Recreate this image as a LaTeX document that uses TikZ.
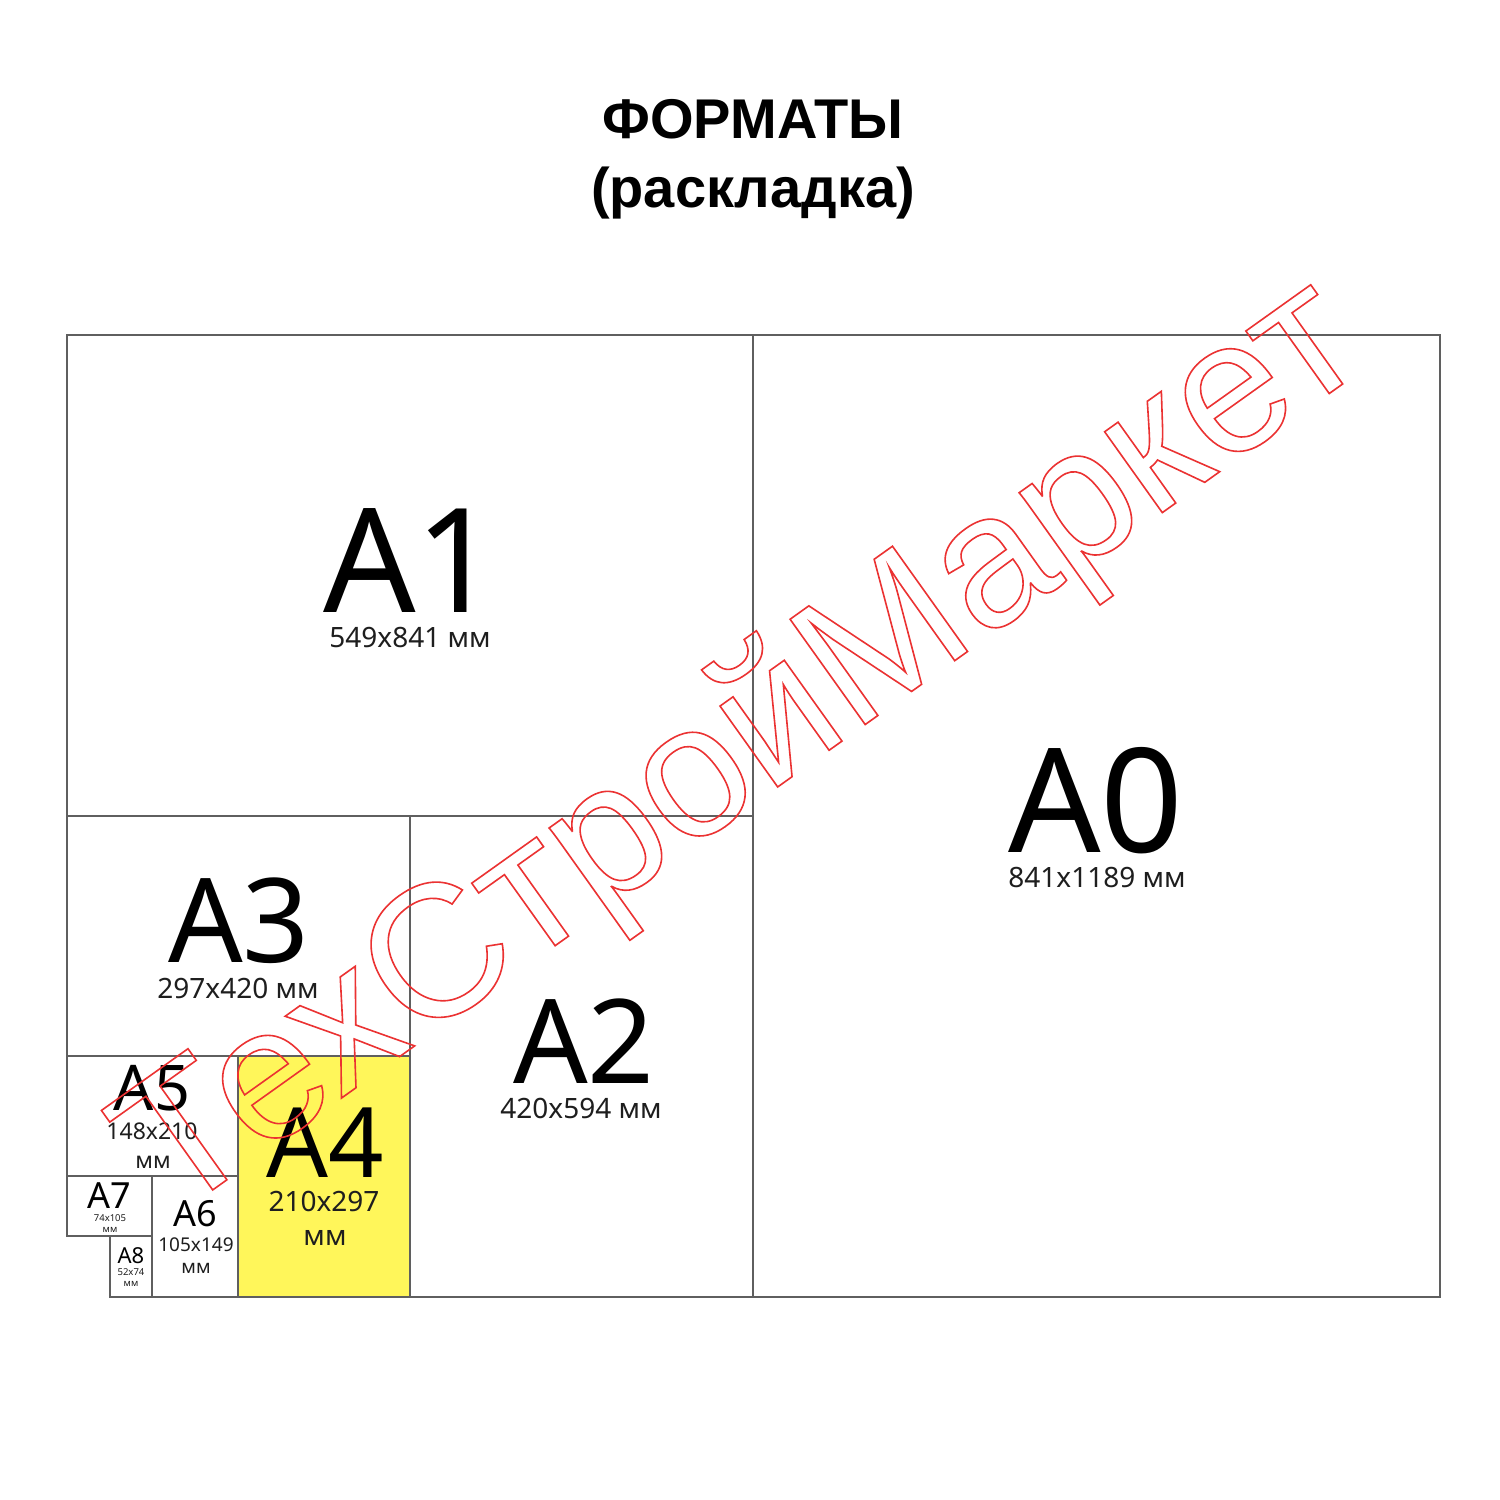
\documentclass[tikz,border=0pt]{standalone}
\usepackage{fontspec}
\setmainfont{Noto Sans}
\newfontfamily\titlefont{Liberation Sans}
\newfontfamily\wmfont{Liberation Sans}
\newcommand\myfs[1]{\fontsize{#1}{#1}\selectfont}
\definecolor{boxline}{RGB}{95,95,95}
\definecolor{afour}{RGB}{255,246,90}
\definecolor{wmred}{RGB}{235,50,50}
\definecolor{subtext}{RGB}{30,30,30}
\begin{document}
\begin{tikzpicture}[x=1pt,y=-1pt,
  boxstyle/.style={draw=boxline,line width=1.8pt},
  lab/.style={inner sep=0pt,anchor=base,text=black},
  sub/.style={inner sep=0pt,anchor=base,text=subtext}]
\fill[white] (0,0) rectangle (1500,1500);
\useasboundingbox (0,0) rectangle (1500,1500);
% title
\node[lab] (t1) at (753,138) {\titlefont\bfseries\myfs{56}ФОРМАТЫ};
\node[lab] (t2) at (753,207) {\titlefont\bfseries\myfs{56}(раскладка)};
% A4 fill
\fill[afour] (238,1056) rectangle (410,1297);
% boxes
\draw[boxstyle] (67,1236) -- (67,335) -- (1440,335) -- (1440,1297) -- (110,1297) -- (110,1236) -- cycle;
\draw[boxstyle] (110,1236) -- (152,1236);
\draw[boxstyle] (753,335) -- (753,1297);
\draw[boxstyle] (67,816) -- (753,816);
\draw[boxstyle] (410,816) -- (410,1297);
\draw[boxstyle] (67,1056) -- (410,1056);
\draw[boxstyle] (238,1056) -- (238,1297);
\draw[boxstyle] (67,1176) -- (238,1176);
\draw[boxstyle] (152,1176) -- (152,1297);
% labels
\node[lab] (a0) at (1096,852) {\myfs{145}A0};
\node[sub] (a0s) at (1097,887) {\myfs{28}841x1189 мм};
\node[lab] (a1) at (411,612) {\myfs{145}A1};
\node[sub] (a1s) at (410,647) {\myfs{28}549x841 мм};
\node[lab] (a2) at (584,1083) {\myfs{117}A2};
\node[sub] (a2s) at (581,1118) {\myfs{28}420x594 мм};
\node[lab] (a3) at (239,962) {\myfs{117}A3};
\node[sub] (a3s) at (238,998) {\myfs{28}297x420 мм};
\node[lab] (a4) at (325,1177) {\myfs{97}A4};
\node[sub] (a4s) at (324,1211) {\myfs{28}210x297};
\node[sub] (a4m) at (325,1245) {\myfs{28}мм};
\node[lab] (a5) at (152,1110) {\myfs{63}A5};
\node[sub] (a5s) at (152,1139) {\myfs{23}148x210};
\node[sub] (a5m) at (153,1168) {\myfs{23}мм};
\node[lab] (a6) at (195,1226) {\myfs{36}A6};
\node[sub] (a6s) at (196,1251) {\myfs{19}105x149};
\node[sub] (a6m) at (196,1273) {\myfs{19}мм};
\node[lab] (a7) at (109,1208) {\myfs{36}A7};
\node[sub] (a7s) at (110,1221) {\myfs{9.5}74x105};
\node[sub] (a7m) at (110,1232) {\myfs{9.5}мм};
\node[lab] (a8) at (131,1263) {\myfs{22}A8};
\node[sub] (a8s) at (131,1275) {\myfs{9.5}52x74};
\node[sub] (a8m) at (131,1286) {\myfs{9.5}мм};
% watermark
\node[inner sep=0pt,anchor=base,rotate=35.5,text=wmred] (wm) at (772,791)
  {\wmfont\myfs{188}\special{pdf:literal direct 1 Tr 1.6 w}ТехСтройМаркет\special{pdf:literal direct 0 Tr}};
\end{tikzpicture}
\end{document}
